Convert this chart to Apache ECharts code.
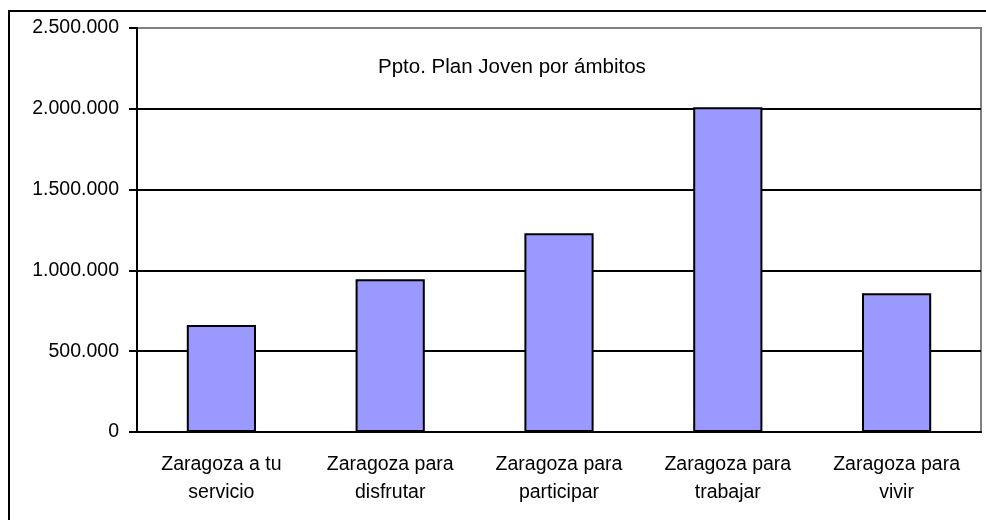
<!DOCTYPE html>
<html>
<head>
<meta charset="utf-8">
<title>Ppto. Plan Joven por ámbitos</title>
<script src="https://cdn.jsdelivr.net/npm/echarts@6/dist/echarts.min.js"></script>
<style>
  html, body { margin: 0; padding: 0; background: #fff; }
  #chart { width: 986px; height: 520px; }
</style>
</head>
<body>
<div id="chart"></div>
<script>
var categories = ['Zaragoza a tu\nservicio', 'Zaragoza para\ndisfrutar', 'Zaragoza para\nparticipar', 'Zaragoza para\ntrabajar', 'Zaragoza para\nvivir'];
var budget = [662000, 946000, 1230000, 2010000, 859000];
var yTicks = [0, 500000, 1000000, 1500000, 2000000, 2500000];
var yTickLabels = ['0', '500.000', '1.000.000', '1.500.000', '2.000.000', '2.500.000'];
var titleText = 'Ppto. Plan Joven por ámbitos';

var font = 'Arial, "Liberation Sans", sans-serif';
var chart = echarts.init(document.getElementById('chart'));

chart.setOption({
  animation: false,
  backgroundColor: '#fff',
  title: {
    text: titleText,
    left: 373,
    top: 52,
    textStyle: { fontFamily: font, fontSize: 20.5, fontWeight: 'normal', color: '#000' }
  },
  // outer chart frame, only its top and left edges fall inside the picture
  graphic: [{
    type: 'rect',
    shape: { x: 9, y: 11, width: 1100, height: 700 },
    style: { fill: 'none', stroke: '#000', lineWidth: 2 },
    silent: true
  }],
  grid: {
    left: 137, top: 28, right: 5, bottom: 88,
    show: true, borderColor: '#808080', borderWidth: 2, backgroundColor: '#fff'
  },
  xAxis: {
    type: 'category',
    data: categories,
    axisLine: { lineStyle: { color: '#000', width: 2 } },
    axisTick: { length: 7, lineStyle: { color: '#000', width: 2 } },
    axisLabel: {
      color: '#000', fontFamily: font, fontSize: 19.5, lineHeight: 28, margin: 19,
      interval: 0
    }
  },
  yAxis: {
    type: 'value',
    min: yTicks[0],
    max: yTicks[yTicks.length - 1],
    interval: yTicks[1] - yTicks[0],
    axisLine: { show: true, lineStyle: { color: '#000', width: 2 } },
    axisTick: { show: true, length: 8, lineStyle: { color: '#000', width: 2 } },
    axisLabel: {
      color: '#000', fontFamily: font, fontSize: 19.5, margin: 18,
      formatter: function (v) {
        var i = yTicks.indexOf(v);
        return i >= 0 ? yTickLabels[i] : '';
      }
    },
    splitLine: {
      lineStyle: { color: ['#000', '#000', '#000', '#000', '#000', '#808080'], width: 2 }
    }
  },
  series: [{
    type: 'bar',
    data: budget,
    barWidth: '41%',
    itemStyle: { color: '#9999ff', borderColor: '#000', borderWidth: 2 }
  }]
});
</script>
</body>
</html>
